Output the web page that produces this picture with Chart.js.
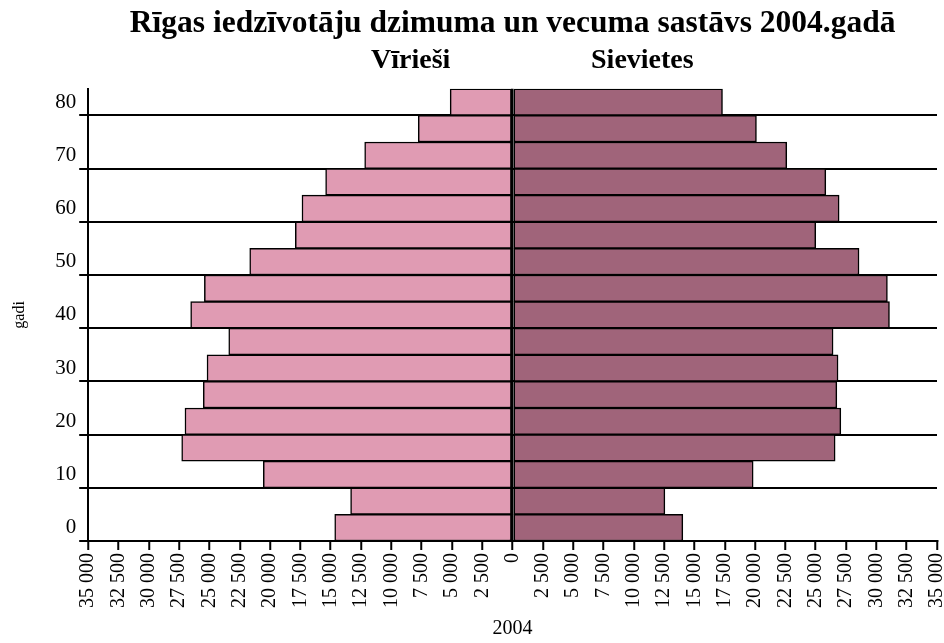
<!DOCTYPE html>
<html>
<head>
<meta charset="utf-8">
<script src="https://cdn.jsdelivr.net/npm/chart.js@4/dist/chart.umd.min.js"></script>
<style>
  html, body { margin: 0; padding: 0; background: #fff; }
  #wrap { width: 944px; height: 643px; position: relative; }
</style>
</head>
<body>
<div id="wrap"><canvas id="pyramid"></canvas></div>
<script>
// age groups, bottom to top
const ageGroups = ['0-4', '5-9', '10-14', '15-19', '20-24', '25-29', '30-34', '35-39', '40-44',
  '45-49', '50-54', '55-59', '60-64', '65-69', '70-74', '75-79', '80+'];
const yTickLabels = ['0', '', '10', '', '20', '', '30', '', '40', '', '50', '', '60', '', '70', '', '80'];

// men (drawn to the left) and women, persons
const maleValues = [14670, 13360, 20560, 27290, 27020, 25510, 25200, 23410, 26550,
  25420, 21680, 17920, 17370, 15420, 12200, 7780, 5150];
const femaleValues = [14040, 12560, 19840, 26600, 27070, 26740, 26840, 26430, 31080,
  30910, 28570, 25000, 26930, 25830, 22610, 20110, 17310];

const seriesNames = ['Vīrieši', 'Sievietes'];
const seriesColors = ['#E09BB3', '#A0647A'];

const serif = 'Liberation Serif';

const fmt = (v) => String(Math.abs(v)).replace(/\B(?=(\d{3})+(?!\d))/g, ' ');

// the two side headings under the title
const sideHeadings = {
  id: 'sideHeadings',
  afterDraw(chart) {
    const ctx = chart.ctx;
    const x = chart.scales.x;
    ctx.save();
    ctx.fillStyle = '#000';
    ctx.font = 'bold 28px "' + serif + '"';
    ctx.textAlign = 'center';
    ctx.textBaseline = 'alphabetic';
    ctx.fillText(seriesNames[0], x.getPixelForValue(-8400), 68);
    ctx.fillText(seriesNames[1], x.getPixelForValue(10700), 68);
    ctx.restore();
  }
};

new Chart(document.getElementById('pyramid'), {
  type: 'bar',
  data: {
    labels: ageGroups,
    datasets: [
      {
        label: seriesNames[0],
        data: maleValues.map(v => -v),
        backgroundColor: seriesColors[0],
        borderColor: '#000',
        borderWidth: 1.5,
        borderSkipped: false,
        barPercentage: 1,
        categoryPercentage: 1
      },
      {
        label: seriesNames[1],
        data: femaleValues,
        backgroundColor: seriesColors[1],
        borderColor: '#000',
        borderWidth: 1.5,
        borderSkipped: false,
        barPercentage: 1,
        categoryPercentage: 1
      }
    ]
  },
  options: {
    indexAxis: 'y',
    responsive: true,
    maintainAspectRatio: false,
    animation: false,
    layout: { padding: { left: 6, right: 0, top: 0, bottom: 0 } },
    plugins: {
      legend: { display: false },
      tooltip: {
        callbacks: {
          label: (item) => `${item.dataset.label}: ${fmt(item.raw)}`
        }
      },
      title: {
        display: true,
        fullSize: false,
        text: 'Rīgas iedzīvotāju dzimuma un vecuma sastāvs 2004.gadā',
        color: '#000',
        font: { family: serif, size: 31.5, weight: 'bold', lineHeight: 1.2 },
        padding: { top: 5, bottom: 46 }
      }
    },
    scales: {
      x: {
        stacked: true,
        min: -35000,
        max: 35000,
        afterFit: (scale) => { scale.paddingRight = 7; },
        grid: {
          drawTicks: true,
          tickLength: 9,
          tickColor: '#000',
          tickWidth: 2,
          // only the zero line runs through the plot, over the bars
          color: (c) => (c.tick && c.tick.value === 0) ? '#000' : 'rgba(0,0,0,0)',
          lineWidth: 2.5,
          z: 1
        },
        border: { color: '#000', width: 2, z: 1 },
        ticks: {
          stepSize: 2500,
          autoSkip: false,
          maxRotation: 90,
          minRotation: 90,
          padding: 3,
          color: '#000',
          font: { family: serif, size: 20 },
          callback: (v) => fmt(v)
        },
        title: {
          display: true,
          text: '2004',
          color: '#000',
          font: { family: serif, size: 20 },
          padding: { top: 6, bottom: 2 }
        }
      },
      y: {
        stacked: true,
        reverse: true,
        grid: {
          offset: true,
          tickLength: 9,
          lineWidth: 2,
          color: (c) => (c.index !== undefined && c.index % 2 === 0) ? '#000' : 'rgba(0,0,0,0)'
        },
        border: { color: '#000', width: 2 },
        ticks: {
          autoSkip: false,
          padding: 3,
          color: '#000',
          font: { family: serif, size: 21 },
          callback: (v, i) => yTickLabels[i]
        },
        title: {
          display: true,
          text: 'gadi',
          color: '#000',
          font: { family: serif, size: 16 },
          padding: { top: 4, bottom: 23 }
        }
      }
    }
  },
  plugins: [sideHeadings]
});
</script>
</body>
</html>
